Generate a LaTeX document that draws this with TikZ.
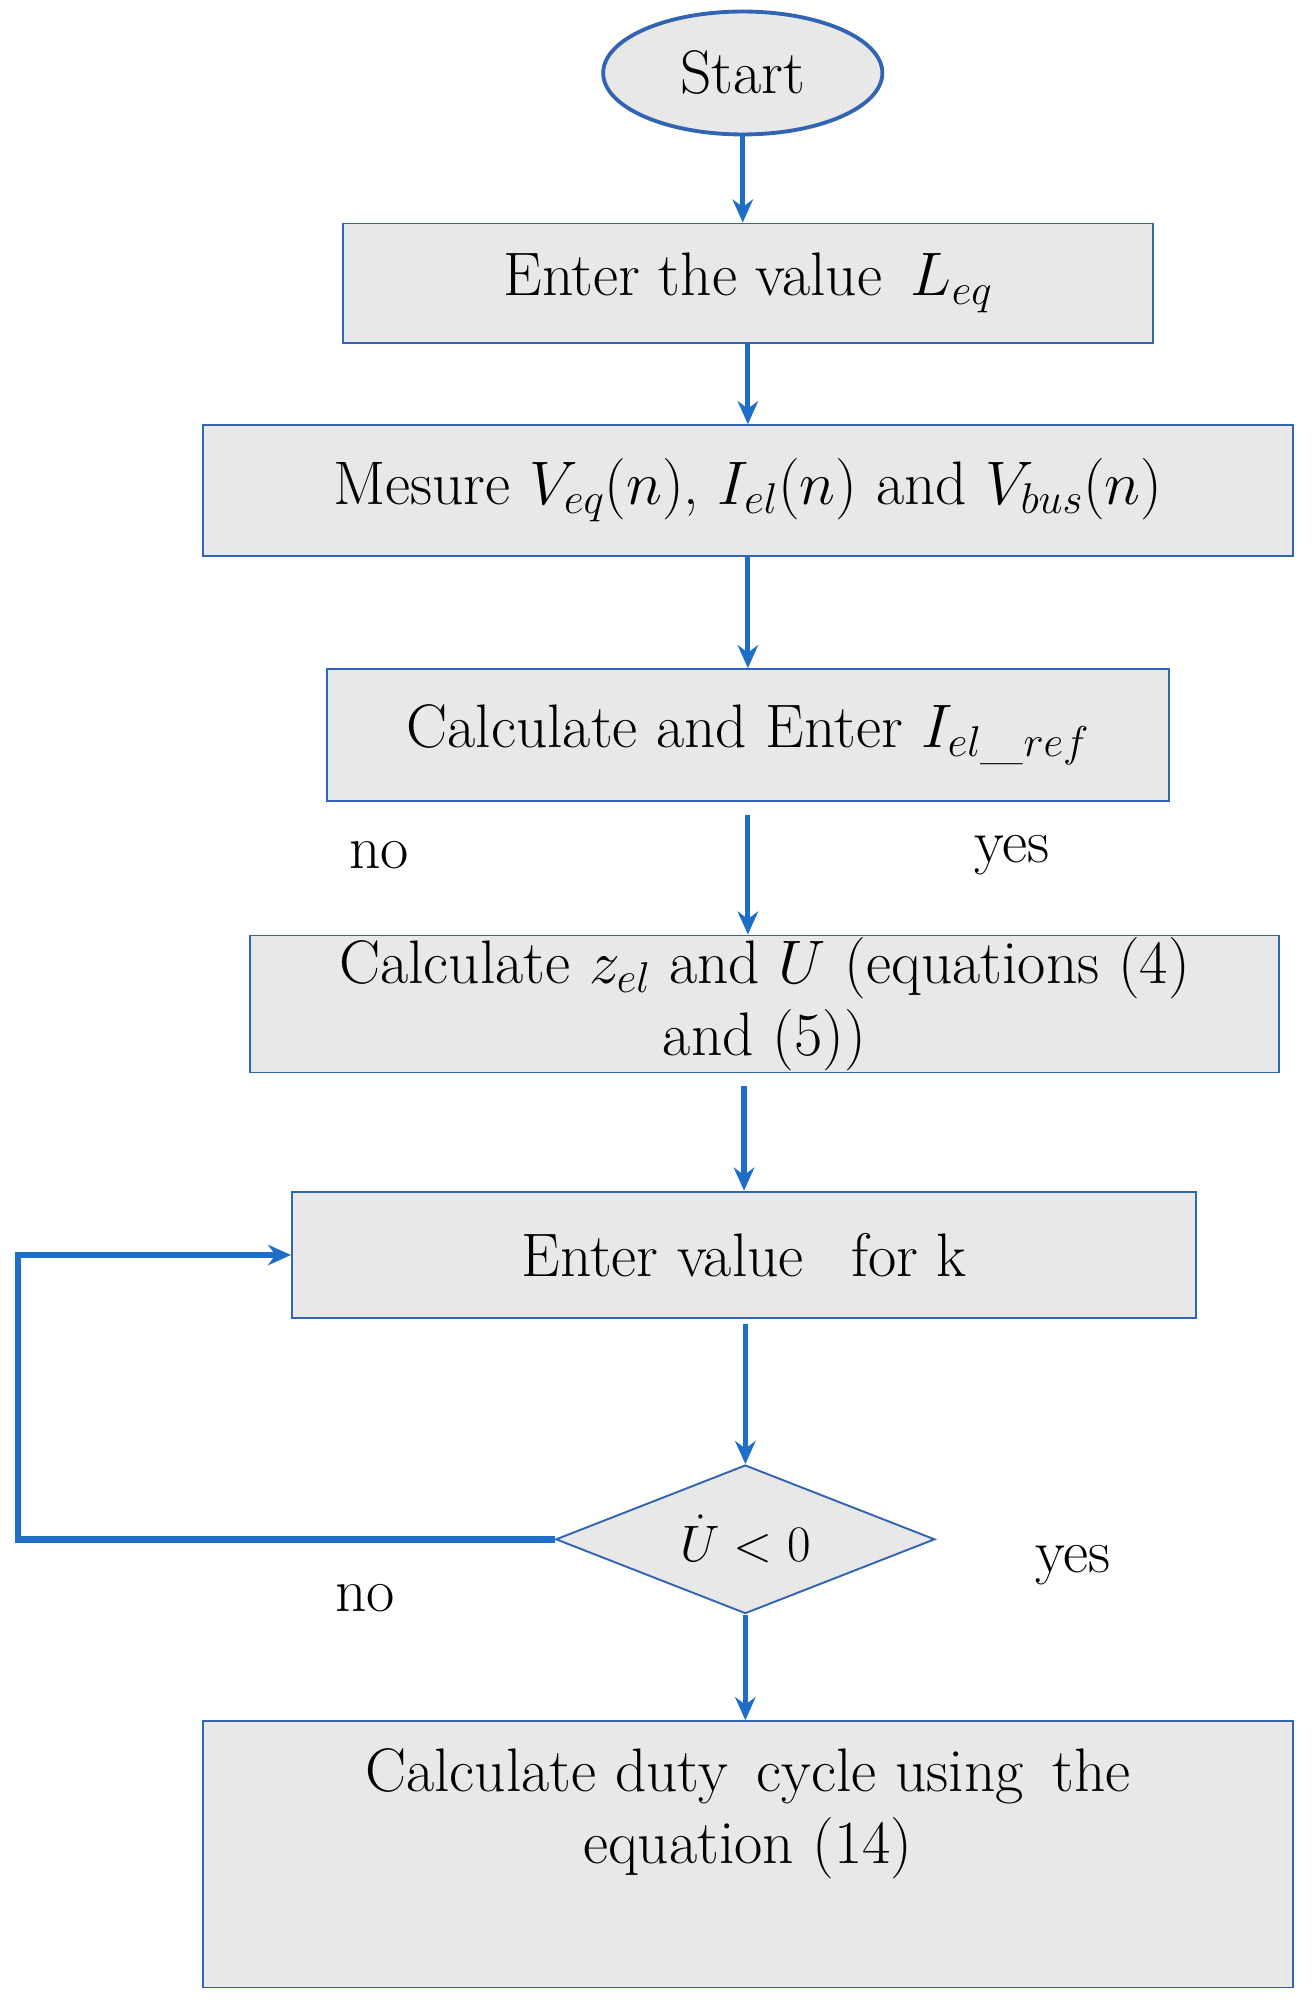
\documentclass[tikz,border=0pt]{standalone}
\usepackage{fix-cm}
\usetikzlibrary{shapes.geometric,arrows.meta}
\definecolor{bord}{RGB}{50,100,180}
\definecolor{arrc}{RGB}{30,110,200}
\begin{document}
\begin{tikzpicture}[x=1pt,y=-1pt,
  box/.style={draw=bord,fill=gray!18,line width=1.5pt,inner sep=0},
  arr/.style={draw=arrc,line width=4pt,-{Stealth[length=18pt,width=16pt]}},
  every node/.style={font=\fontsize{48}{56}\selectfont}]
\useasboundingbox (0,0) rectangle (1024,1568);
\node[ellipse,draw=bord,fill=gray!18,line width=3pt,minimum width=218pt,minimum height=96pt,inner sep=0] (s) at (580,57) {Start};
\node[box,minimum width=632pt,minimum height=93pt] (b1) at (584,221) {Enter the value \,$L_{eq}$};
\node[box,minimum width=851pt,minimum height=102pt] (b2) at (584,383) {Mesure $V_{eq}(n)$, $I_{el}(n)$ and $V_{bus}(n)$};
\node[box,minimum width=657pt,minimum height=103pt] (b3) at (584,574) {Calculate and Enter $I_{el\_ref}$};
\node[box,minimum width=804pt,minimum height=107pt] (b4) at (597,784) {};
\node[align=center] (t4) at (597,784) {Calculate $z_{el}$ and $U$ (equations (4)\\ and (5))};
\node[box,minimum width=706pt,minimum height=99pt] (b5) at (581,980) {Enter value \, for k};
\node[diamond,aspect=2.55,draw=bord,fill=gray!18,line width=1.5pt,minimum width=296pt,minimum height=116pt,inner sep=0] (d) at (582,1202) {};
\node (dt) at (582,1202) {\fontsize{40}{46}\selectfont$\dot U<0$};
\node[box,minimum width=851pt,minimum height=208pt] (b6) at (584,1448) {};
\node[align=center] (t6) at (584,1416) {Calculate duty \,cycle using \,the\\ equation (14)};
\node (n1) at (296,668) {no};
\node (y1) at (790,668) {yes};
\node (n2) at (285,1248) {no};
\node (y2) at (838,1222) {yes};
\coordinate (c1) at (14,1202);
\coordinate (c2) at (14,980);
\draw[arr] (s.south) -- (b1.north -| s.south);
\draw[arr] (b1) -- (b2);
\draw[arr] (b2) -- (b3);
\draw[arr] ([yshift=-10pt]b3.south) -- (b4.north -| b3.south);
\draw[arr] ([yshift=-10pt]b4.south -| b5.north) -- (b5.north);
\draw[arr] ([yshift=-4pt]b5.south -| d.north) -- (d.north);
\draw[arr] (d.south) -- (b6.north -| d.south);
\draw[arr,line width=5pt] (d.west) -- (c1) -- (c2) -- (b5.west);
\end{tikzpicture}
\end{document}
